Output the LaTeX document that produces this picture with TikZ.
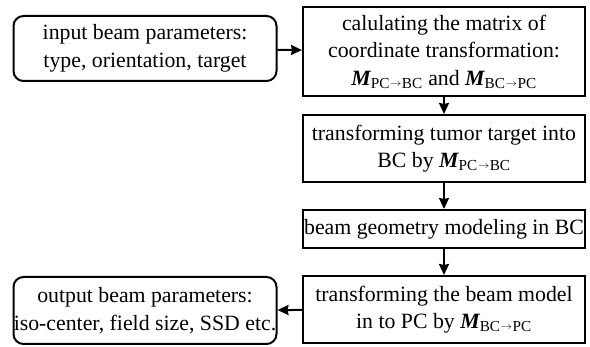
\documentclass[tikz,border=0pt]{standalone}
\usepackage{fontspec}
\setmainfont{Liberation Serif}
\usetikzlibrary{arrows.meta}
\newcommand\MM[1]{\textbf{\textit{M}}\textsubscript{\kern-0.5pt #1}}
\newcommand\arr{\kern0.5pt\raisebox{0.3ex}{\scalebox{0.8}[0.7]{$\rightarrow$}}\kern0.5pt}
\begin{document}
\begin{tikzpicture}[x=1pt,y=-1pt,
  every node/.style={font=\fontsize{21.8}{27.5}\selectfont, align=center, inner sep=0pt},
  box/.style={draw, line width=2pt, minimum width=282pt},
  rbox/.style={draw, line width=2pt, rounded corners=10pt, minimum width=263pt},
  conn/.style={line width=2pt, -{Stealth[length=11pt,width=10pt,inset=1pt]}}]
\useasboundingbox (0,0) rectangle (590,347);
\node[rbox, minimum height=65pt] (in) at (145,48.5) {input beam parameters:\\type, orientation, target};
\node[box, minimum height=89pt] (b1) at (444,51.5) {calulating the matrix of\\coordinate transformation:\\\MM{PC\arr BC} and \MM{BC\arr PC}};
\node[box, minimum height=67pt] (b2) at (444,148.5) {transforming tumor target into\\BC by \MM{PC\arr BC}};
\node[box, minimum height=38pt] (b3) at (444,229) {beam geometry modeling in BC};
\node[box, minimum height=67pt] (b4) at (444,309.5) {transforming the beam model\\in to PC by \MM{BC\arr PC}};
\node[rbox, minimum height=67pt] (out) at (145,310.5) {output beam parameters:\\iso-center, field size, SSD etc.};
\draw[conn] (in) -- (b1);
\draw[conn] (b1) -- (b2);
\draw[conn] (b2) -- (b3);
\draw[conn] (b3) -- (b4);
\draw[conn] (b4) -- (out);
\end{tikzpicture}
\end{document}
